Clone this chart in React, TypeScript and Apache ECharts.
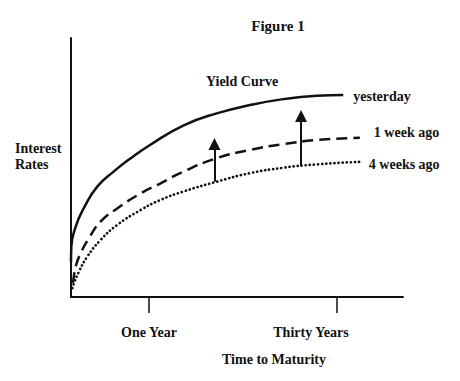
import React, { useEffect, useRef } from "react";
import * as echarts from "echarts";

// x: position along maturity axis (0-100), y: interest rate level (0-100)
const xTickValues = [23.5, 80.1];
const xTickLabels = ["One Year", "Thirty Years"];

const yesterday: [number, number][] = [
  [0, 13.5], [0.1, 19.4], [1.4, 27.1], [3.9, 34.4], [7.9, 42.6], [13.0, 48.6],
  [18.0, 53.6], [23.8, 58.7], [33.8, 66.2], [43.9, 70.9], [53.9, 74.1],
  [63.9, 76.4], [74.0, 77.7], [82.0, 78.0],
];
const oneWeekAgo: [number, number][] = [
  [0.5, 5.4], [0.7, 6.6], [1.4, 11.7], [2.9, 16.9], [5.4, 22.7], [8.9, 29.1],
  [13.9, 34.2], [21.0, 40.0], [27.0, 43.9], [33.8, 48.4], [43.9, 53.6],
  [53.9, 56.8], [63.9, 59.0], [74.0, 60.6], [87.0, 61.5],
];
const fourWeeksAgo: [number, number][] = [
  [0.4, 3.4], [0.9, 5.3], [2.4, 9.8], [4.9, 15.6], [8.9, 22.0], [13.9, 27.8],
  [21.0, 33.6], [27.0, 37.5], [33.8, 40.7], [43.9, 44.5], [53.9, 47.8],
  [63.9, 49.9], [74.0, 51.2], [87.0, 52.2],
];

const arrowX = [43.2, 69.3];
const arrowFrom = [44.5, 50.7];
const arrowTo = [59.1, 69.9];

const FONT = "'Liberation Serif', 'Times New Roman', serif";
const INK = "#111";

export default function App() {
  const ref = useRef<HTMLDivElement>(null);
  useEffect(() => {
    document.body.style.margin = "0";
    if (!ref.current) return;
    const chart = echarts.init(ref.current, null, { renderer: "svg" });
    const textBase = { fontFamily: FONT, fontWeight: "bold" as const, fontSize: 14, color: INK };
    const lineSeries = (name: string, data: [number, number][], type: any, offset: number[]) => ({
      name,
      type: "line",
      data,
      smooth: 0.5,
      showSymbol: false,
      symbol: "none",
      silent: true,
      lineStyle: { color: INK, width: 2.5, type, cap: "butt" },
      endLabel: { show: true, formatter: "{a}", distance: 0, offset, ...textBase },
      emphasis: { disabled: true },
    });
    const s3: any = lineSeries("4 weeks ago", fourWeeksAgo, [0.1, 4], [9, 3]);
    s3.lineStyle.cap = "round";
    s3.lineStyle.width = 2.7;
    s3.markLine = {
      silent: true,
      symbol: ["none", "triangle"],
      symbolSize: [12, 12],
      lineStyle: { color: INK, width: 2, type: "solid" },
      label: { show: false },
      emphasis: { disabled: true },
      data: arrowX.map((x, i) => [{ coord: [x, arrowFrom[i]] }, { coord: [x, arrowTo[i]] }]),
    };
    chart.setOption({
      animation: false,
      title: [
        { text: "Figure 1", left: 273, top: 13, textAlign: "center", textStyle: { ...textBase, fontSize: 15 } },
        { text: "Yield Curve", left: 237, top: 69, textAlign: "center", textStyle: { ...textBase } },
      ],
      graphic: [
        {
          type: "text",
          left: 15,
          top: 140,
          style: { text: "Interest\nRates", font: `bold 14px ${FONT}`, fill: INK, lineHeight: 16 },
        },
      ],
      grid: { left: 71, top: 38, width: 332, height: 259 },
      xAxis: {
        type: "value",
        min: 0,
        max: 100,
        axisLine: { show: true, onZero: false, lineStyle: { color: INK, width: 2 } },
        axisTick: { show: true, customValues: xTickValues, length: 16, inside: false, lineStyle: { color: INK, width: 1.5 } },
        axisLabel: {
          show: true,
          customValues: xTickValues,
          margin: 28,
          formatter: (v: number) => {
            const i = xTickValues.findIndex((t) => Math.abs(t - v) < 1e-6);
            return i < 0 ? "" : `{l${i}|${xTickLabels[i]}}`;
          },
          rich: {
            l0: { ...textBase },
            l1: { ...textBase, padding: [0, 52, 0, 0] },
          },
          ...textBase,
        },
        splitLine: { show: false },
        name: "Time to Maturity",
        nameLocation: "middle",
        nameGap: 55,
        nameTextStyle: { ...textBase, padding: [0, 0, 0, 74] },
      },
      yAxis: {
        type: "value",
        min: 0,
        max: 100,
        axisLine: { show: true, lineStyle: { color: INK, width: 2 } },
        axisTick: { show: false },
        axisLabel: { show: false },
        splitLine: { show: false },
      },
      series: [
        lineSeries("yesterday", yesterday, "solid", [10, 2]),
        lineSeries("1 week ago", oneWeekAgo, [11, 6], [14, -5]),
        s3,
      ],
    });
    return () => chart.dispose();
  }, []);
  return <div ref={ref} style={{ width: 460, height: 381 }} />;
}
